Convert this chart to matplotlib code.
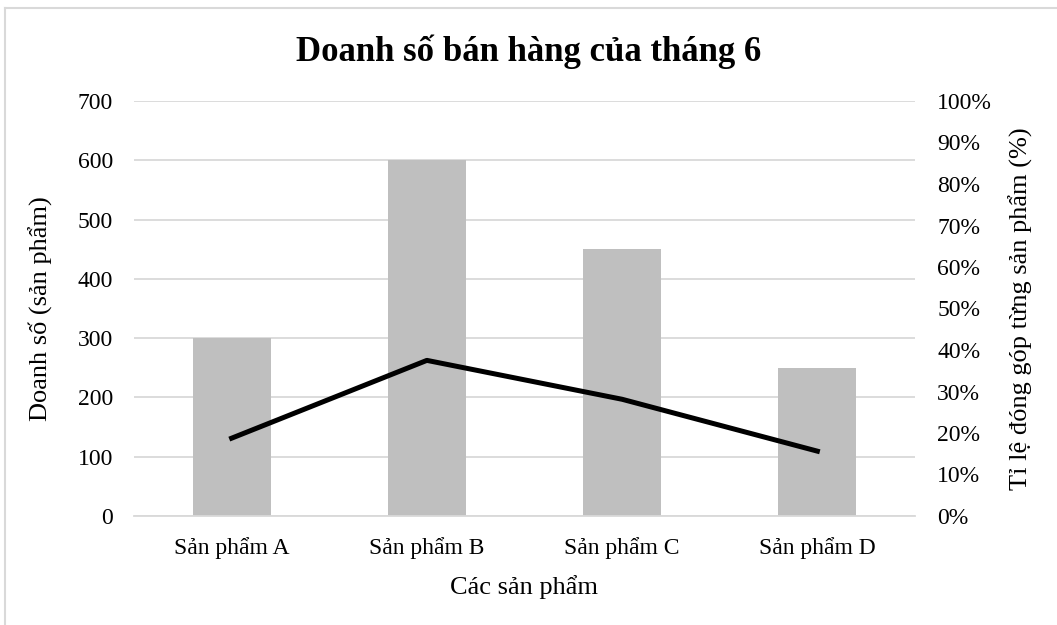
import matplotlib
matplotlib.use("Agg")
import matplotlib.pyplot as plt
from matplotlib.lines import Line2D
from matplotlib.ticker import PercentFormatter

products = ["Sản phẩm A", "Sản phẩm B", "Sản phẩm C", "Sản phẩm D"]
sales = [300, 600, 450, 250]
share = [s / sum(sales) * 100 for s in sales]

plt.rcParams['font.family'] = ['Liberation Serif', 'DejaVu Serif']

W, H = 1057, 625
fig = plt.figure(figsize=(W / 100, H / 100), dpi=100)
ax = fig.add_axes([134 / W, 1 - 516 / H, (915 - 134) / W, (516 - 101) / H])

x = range(len(products))
ax.bar(x, sales, width=0.4, color="#BFBFBF", zorder=2)
ax.set_xlim(-0.5, len(products) - 0.5)
ax.set_ylim(0, 700)
ax.set_yticks(range(0, 701, 100))
ax.grid(axis="y", color="#D9D9D9", lw=1.3, zorder=0)
ax.set_xticks(list(x))
ax.set_xticklabels(products)
ax.tick_params(axis="both", length=0, labelsize=17, pad=15)
ax.tick_params(axis="x", pad=15)
for s in ax.spines.values():
    s.set_visible(False)
ax.spines["bottom"].set_visible(True)
ax.spines["bottom"].set_color("#D9D9D9")
ax.spines["bottom"].set_linewidth(1.3)
ax.set_xlabel("Các sản phẩm", fontsize=19, labelpad=12)
ax.set_ylabel("Doanh số (sản phẩm)", fontsize=19, labelpad=18)

ax2 = ax.twinx()
ax2.plot(list(x), share, color="black", lw=3.6, zorder=3)
ax2.set_ylim(0, 100)
ax2.set_yticks(range(0, 101, 10))
ax2.yaxis.set_major_formatter(PercentFormatter(decimals=0))
ax2.tick_params(axis="y", length=0, labelsize=17, pad=16)
for s in ax2.spines.values():
    s.set_visible(False)
ax2.set_ylabel("Tỉ lệ đóng góp từng sản phẩm (%)", fontsize=19, labelpad=12)

fig.text(0.5, 1 - 52 / H, "Doanh số bán hàng của tháng 6", ha="center", va="center",
         fontsize=25, fontweight="bold")

# chart frame
fig.add_artist(Line2D([5 / W, 5 / W], [0, 1 - 8 / H], color="#D9D9D9", lw=1.5))
fig.add_artist(Line2D([5 / W, 1], [1 - 8 / H, 1 - 8 / H], color="#D9D9D9", lw=1.5))

fig.savefig("out.png", dpi=100)
